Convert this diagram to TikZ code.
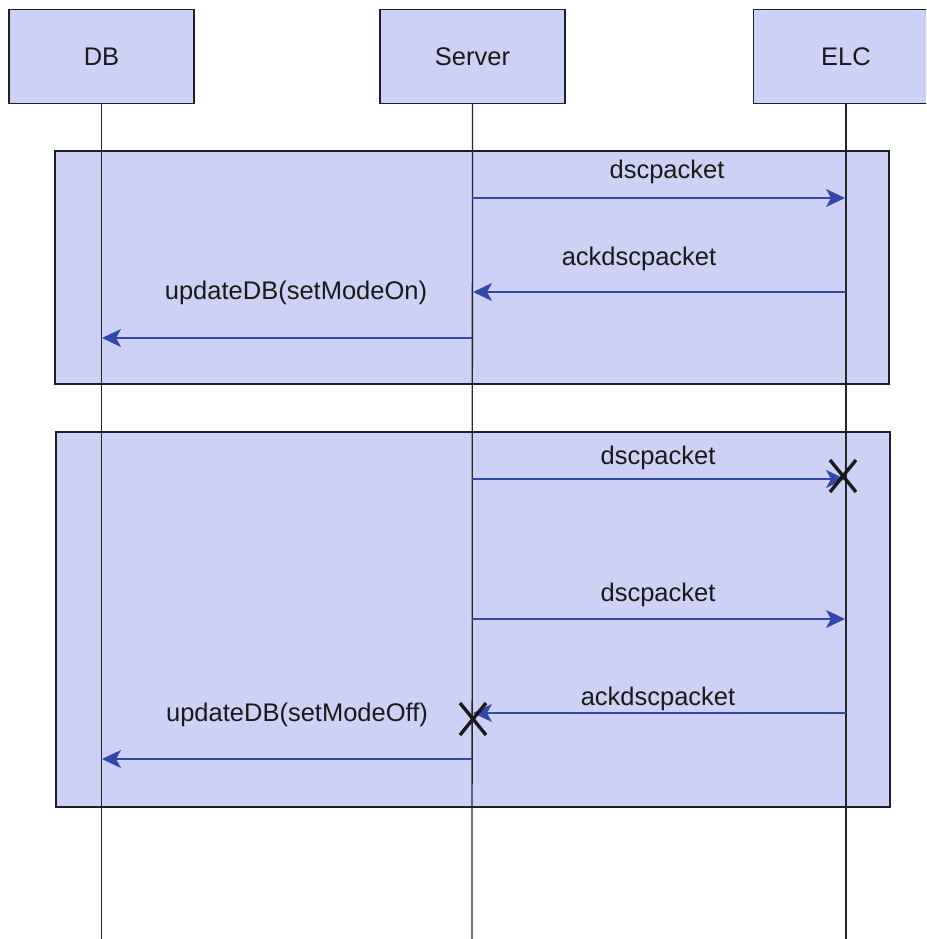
\documentclass[tikz,border=0pt]{standalone}
\usepackage{fontspec}
\setmainfont{Liberation Sans}
\usetikzlibrary{arrows.meta,calc}
\definecolor{lav}{RGB}{206,209,246}
\definecolor{msgblue}{RGB}{52,72,172}
\definecolor{edge}{RGB}{30,30,40}
\begin{document}
\begin{tikzpicture}[x=1pt,y=-1pt,
  every node/.style={font=\fontsize{25.5}{30}\selectfont, text=black!90},
  actor/.style={draw=edge, line width=1.5pt, fill=lav, minimum width=185pt, minimum height=94pt, inner sep=0pt},
  frame/.style={draw=edge, line width=1.5pt, fill=lav},
  lifeline/.style={draw=black!85, line width=1.3pt},
  msg/.style={draw=msgblue, line width=1.3pt, -{Stealth[length=19pt,width=18pt,inset=5pt,fill=msgblue]}},
  lbl/.style={inner sep=0pt},
  destroy/.style={draw=black!90, line width=3.4pt}]
\useasboundingbox (0,0) rectangle (926,939);
\begin{scope}
\clip (0,0) rectangle (926,939);

% combined fragments
\path[frame] (55,151) rectangle (889,384);
\path[frame] (56,432) rectangle (890,807);

% actors
\node[actor] (db)  at (101.5,56.5) {DB};
\node[actor] (srv) at (472.5,56.5) {Server};
\node[actor] (elc) at (846,56.5)   {ELC};

% lifelines
\coordinate (dbEnd)  at (101.5,939);
\coordinate (srvEnd) at (472,939);
\coordinate (elcEnd) at (846,939);
\draw[lifeline] (db.south)  -- (dbEnd);
\draw[lifeline] (srv.south) -- (srvEnd);
\draw[lifeline] (elc.south) -- (elcEnd);

% message end points on the lifelines
\coordinate (a1s) at (472,198);  \coordinate (a1e) at (845,198);
\coordinate (a2s) at (846,292);  \coordinate (a2e) at (473,292);
\coordinate (a3s) at (472,338);  \coordinate (a3e) at (102,338);
\coordinate (b1s) at (472,479);  \coordinate (b1e) at (845,479);
\coordinate (b2s) at (472,619);  \coordinate (b2e) at (845,619);
\coordinate (b3s) at (846,713);  \coordinate (b3e) at (473,713);
\coordinate (b4s) at (472,759);  \coordinate (b4e) at (102,759);

% first fragment
\draw[msg] (a1s) -- (a1e);
\node[lbl] (l1) at (667,172) {dscpacket};
\draw[msg] (a2s) -- (a2e);
\node[lbl] (l2) at (639,259) {ackdscpacket};
\draw[msg] (a3s) -- (a3e);
\node[lbl] (l3) at (296,293) {updateDB(setModeOn)};

% second fragment
\draw[msg] (b1s) -- (b1e);
\node[lbl] (l4) at (658,458) {dscpacket};
\draw[msg] (b2s) -- (b2e);
\node[lbl] (l5) at (658,595) {dscpacket};
\draw[msg] (b3s) -- (b3e);
\node[lbl] (l6) at (658,699) {ackdscpacket};
\draw[msg] (b4s) -- (b4e);
\node[lbl] (l7) at (297,715) {updateDB(setModeOff)};

% destruction marks
\coordinate (x1) at (843,476);
\coordinate (x2) at (473,719);
\draw[destroy] ($(x1)+(-13,-16)$) -- ($(x1)+(13,16)$);
\draw[destroy] ($(x1)+(13,-16)$) -- ($(x1)+(-13,16)$);
\draw[destroy] ($(x2)+(-13,-16)$) -- ($(x2)+(13,16)$);
\draw[destroy] ($(x2)+(13,-16)$) -- ($(x2)+(-13,16)$);
\end{scope}
\end{tikzpicture}
\end{document}
